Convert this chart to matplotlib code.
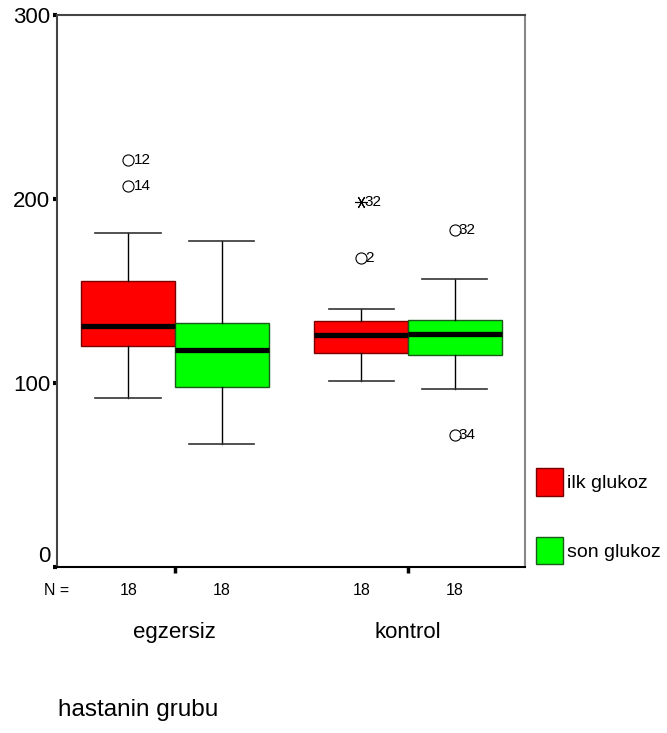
import matplotlib
matplotlib.use("Agg")
import matplotlib.pyplot as plt
from matplotlib import font_manager
from matplotlib.patches import Patch

# data
groups = ["egzersiz", "kontrol"]
series = ["ilk glukoz", "son glukoz"]
n_counts = [18, 18, 18, 18]  # box order: egz-ilk, egz-son, kon-ilk, kon-son
whislo = [92, 67, 101, 97]
q1 = [120, 98, 116.5, 115]
med = [131, 118, 126, 126.5]
q3 = [155.5, 132.5, 133.5, 134.5]
whishi = [181.5, 177, 140, 156.5]
outlier_values = [[221, 207], [], [198.5, 168], [183, 71.5]]
outlier_ids = [[12, 14], [], [32, 2], [32, 34]]
outlier_extreme = [[False, False], [], [True, False], [False, False]]
yticks = [0, 100, 200, 300]

box_colors = ["#ff0000", "#00ff00"]
edge_colors = ["#7a0000", "#1a5a1a"]

available = {f.name for f in font_manager.fontManager.ttflist}
family = "DejaVu Sans"
for cand in ["Liberation Sans Narrow", "Arial Narrow", "Liberation Sans"]:
    if cand in available:
        family = cand
        break
plt.rcParams["font.family"] = family

fig = plt.figure(figsize=(6.67, 7.33), dpi=100)
ax = fig.add_axes([57 / 667, 166 / 733, 468 / 667, 552 / 733])

offset = 0.2
width = 0.403
positions = []
for gi in range(len(groups)):
    for si in range(len(series)):
        positions.append(gi + 1 + (si - 0.5) * 2 * offset)

stats = []
for i in range(len(positions)):
    stats.append({
        "whislo": whislo[i], "q1": q1[i], "med": med[i],
        "q3": q3[i], "whishi": whishi[i], "fliers": [],
    })

art = ax.bxp(stats, positions=positions, widths=width, patch_artist=True,
             showfliers=False, capwidths=width * 0.7,
             boxprops=dict(linewidth=1.0),
             whiskerprops=dict(color="black", linewidth=1.0),
             capprops=dict(color="#333333", linewidth=1.2),
             medianprops=dict(color="black", linewidth=3.8, solid_capstyle="butt"))
for i, box in enumerate(art["boxes"]):
    box.set_facecolor(box_colors[i % 2])
    box.set_edgecolor(edge_colors[i % 2])
    box.set_zorder(2)
for m in art["medians"]:
    m.set_zorder(3)

# outliers with case labels
for i, pos in enumerate(positions):
    for val, cid, ext in zip(outlier_values[i], outlier_ids[i], outlier_extreme[i]):
        if ext:
            ax.plot(pos, val, marker=(6, 2, 90), markersize=9, color="black",
                    markeredgewidth=0.8, linestyle="none")
        else:
            ax.plot(pos, val, marker="o", markersize=8, markerfacecolor="none",
                    markeredgecolor="black", markeredgewidth=0.8, linestyle="none")
        dx = 4 if i < 2 else 2.5
        ax.annotate(str(cid), (pos, val), xytext=(dx, 0), textcoords="offset points",
                    ha="left", va="center", fontsize=11)

ax.set_xlim(0.494, 2.502)
ax.set_ylim(0, 300)
ax.set_yticks(yticks)
ax.set_yticklabels([str(t) for t in yticks], fontsize=16)
ax.yaxis.get_ticklabels()[0].set_va("bottom")
ax.tick_params(axis="y", direction="out", length=3, width=3, pad=2, color="black")
ax.set_xticks([1, 2])
ax.set_xticklabels([])
ax.tick_params(axis="x", direction="out", length=4, width=2.5, color="black")

for side in ["left", "top"]:
    ax.spines[side].set_color("#444444")
    ax.spines[side].set_linewidth(1.5)
ax.spines["right"].set_color("#888888")
ax.spines["right"].set_linewidth(1.5)
ax.spines["bottom"].set_color("black")
ax.spines["bottom"].set_linewidth(1.5)

xt = ax.get_xaxis_transform()
ax.text(0.0, -0.042, "N =", transform=ax.transAxes, ha="center", va="center", fontsize=11.5)
for pos, n in zip(positions, n_counts):
    ax.text(pos, -0.042, str(n), transform=xt, ha="center", va="center", fontsize=11.5)
for gi, g in enumerate(groups):
    ax.text(gi + 1, -0.118, g, transform=xt, ha="center", va="center", fontsize=16)
ax.text(0.002, -0.259, "hastanin grubu", transform=ax.transAxes,
        ha="left", va="center", fontsize=17.5)

handles = [Patch(facecolor=box_colors[i], edgecolor=edge_colors[i], linewidth=1.0)
           for i in range(len(series))]
ax.legend(handles, series, loc="upper left", bbox_to_anchor=(1.0235, 0.179),
          frameon=False, fontsize=14, handlelength=1.4, handleheight=1.8,
          handletextpad=0.2, labelspacing=2.1, borderpad=0, borderaxespad=0)

fig.savefig("out.png", dpi=100)
